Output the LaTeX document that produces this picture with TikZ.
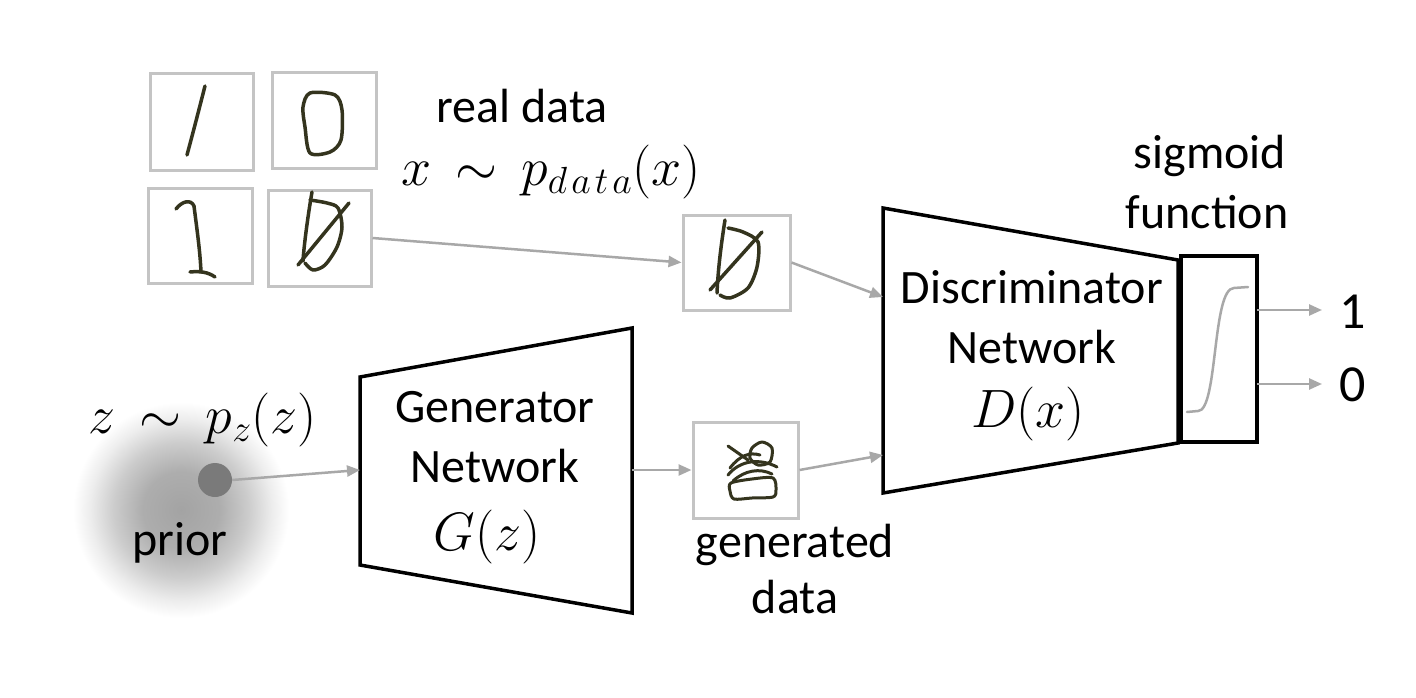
\documentclass[tikz,border=0pt]{standalone}
\usepackage{fix-cm}
\usepackage[no-math]{fontspec}
\setmainfont{Carlito}
\usetikzlibrary{arrows.meta}
\definecolor{boxgray}{HTML}{C4C4C4}
\definecolor{arrgray}{HTML}{A8A8A8}
\definecolor{ink}{HTML}{34341E}
\pgfdeclareradialshading{blob}{\pgfpoint{0bp}{0bp}}{color(0bp)=(black!36); color(8bp)=(black!32); color(14bp)=(black!20); color(19bp)=(black!7); color(22.5bp)=(white); color(25bp)=(white); color(50bp)=(white)}
\begin{document}
\begin{tikzpicture}[x=1pt,y=-1pt,
  txt/.style={font=\fontsize{48}{52}\selectfont, inner sep=0pt},
  bigtxt/.style={font=\fontsize{52}{56}\selectfont, inner sep=0pt},
  mth/.style={font=\fontsize{54}{58}\selectfont, inner sep=0pt},
  imgbox/.style={draw=boxgray, line width=3pt, inner sep=0pt},
  arr/.style={draw=arrgray, line width=2.5pt, -{Triangle[length=13pt,width=11pt]}},
  net/.style={draw=black, line width=3.5pt, line join=miter},
  digit/.style={draw=ink, line width=3.5pt, line cap=round, line join=round},
  sigcurve/.style={draw=arrgray, line width=2.5pt, line cap=round}]
\useasboundingbox (0,0) rectangle (1416,698);
\fill[white] (0,0) rectangle (1416,698);
% prior blob
\shade[shading=blob] (181,510) circle[radius=120];
\node[circle, fill=black!52, minimum size=34pt, inner sep=0pt] (zdot) at (215,480) {};
% real data images
\node[imgbox, minimum width=103pt, minimum height=96pt] (d1) at (201.5,122) {};
\node[imgbox, minimum width=104pt, minimum height=95pt] (d2) at (324,120.5) {};
\node[imgbox, minimum width=104pt, minimum height=95pt] (d3) at (200,235.5) {};
\node[imgbox, minimum width=103pt, minimum height=96pt] (d4) at (319.5,238) {};
\node[imgbox, minimum width=107pt, minimum height=95pt] (real) at (736.5,262.5) {};
\node[imgbox, minimum width=105pt, minimum height=96pt] (gen) at (745.5,470) {};
% digits
\draw[digit] (187,155) .. controls (195,125) .. (205,86);
\draw[digit] plot[smooth cycle] coordinates {(310,93) (335,95) (342,110) (341,140) (330,152) (310,153) (305,127) (303,107)};
\draw[digit] (176,209) .. controls (182,201) and (191,199) .. (194,206) .. controls (197,230) and (200,250) .. (201,272);
\draw[digit] (190,272) .. controls (200,271) and (208,272) .. (215,277);
\draw[digit] (312,192) .. controls (308,215) and (304,245) .. (303,261);
\draw[digit] plot[smooth] coordinates {(310,200) (327,203) (338,208) (342,227) (337,247) (325,265) (313,270) (305,263)};
\draw[digit] (298,265) -- (349,203);
\draw[digit] (725,220) .. controls (721,245) and (718,270) .. (717,293);
\draw[digit] plot[smooth] coordinates {(728,228) (743,232) (758,242) (757,267) (748,288) (730,298) (720,295)};
\draw[digit] (710,290) -- (762,232);
% generated scribble
\draw[digit, line width=3pt] plot[smooth cycle] coordinates {(731,483) (752,479) (773,478) (776,490) (773,497) (752,498) (734,499) (730,491)};
\draw[digit, line width=3pt] plot[smooth cycle] coordinates {(752,448) (762,442) (772,448) (770,462) (758,465) (750,458)};
\draw[digit, line width=3pt] (728,446) -- (748,460);
\draw[digit, line width=3pt] (728,475) .. controls (740,460) and (760,458) .. (777,467);
\draw[digit, line width=3pt] (730,468) .. controls (740,455) and (750,452) .. (760,455);
\draw[digit, line width=3pt] (733,481) .. controls (745,470) and (760,468) .. (772,474);
% generator
\draw[net] (360,377) coordinate (g1) -- (632,328) coordinate (g2) -- (632,613) coordinate (g3) -- (360,565) coordinate (g4) -- cycle;
\coordinate (gin) at (360,470);
\coordinate (gout) at (632,470);
% discriminator
\draw[net] (883,208) coordinate (h1) -- (1178,260) coordinate (h2) -- (1178,443) coordinate (h3) -- (883,493) coordinate (h4) -- cycle;
\coordinate (din1) at (883,297);
\coordinate (din2) at (883,455);
% sigmoid box
\node[draw=black, line width=3.5pt, minimum width=76pt, minimum height=186pt, inner sep=0pt] (sig) at (1219,349) {};
\draw[sigcurve] (1187,412) -- (1198,411) .. controls (1218,411) and (1212,288) .. (1234,288) -- (1248,287);
\coordinate (o1s) at (1257,310);
\coordinate (o1e) at (1322,310);
\coordinate (o0s) at (1257,384);
\coordinate (o0e) at (1322,384);
% connectors
\draw[arr] (d4.east) -- (real.west);
\draw[arr] (real.east) -- (din1);
\draw[arr] (zdot.east) -- (gin);
\draw[arr] (gout) -- (gen.west);
\draw[arr] (gen.east) -- (din2);
\draw[arr] (o1s) -- (o1e);
\draw[arr] (o0s) -- (o0e);
% texts
\node[txt, anchor=base] (realt) at (522,123) {real data};
\node[mth, anchor=base] (xt) at (551,185) {$x\mathrel{\,\sim\,}p_{d\mkern2mu a\mkern2mu t\mkern2mu a}(x)$};
\node[txt, anchor=base] (sigt1) at (1210,168) {sigmoid};
\node[txt, anchor=base] (sigt2) at (1207,228) {function};
\node[txt, anchor=base] (dt1) at (1032,303) {Discriminator};
\node[txt, anchor=base] (dt2) at (1032,363) {Network};
\node[mth, anchor=base] (dt3) at (1028,427) {$D(x)$};
\node[txt, anchor=base] (gt1) at (495,422) {Generator};
\node[txt, anchor=base] (gt2) at (495,482) {Network};
\node[mth, anchor=base] (gt3) at (487,550) {$G(z)$};
\node[txt, anchor=base] (prior) at (180,555) {prior};
\node[mth, anchor=base] (zt) at (203,433) {$z\mathrel{\,\sim\,}p_z(z)$};
\node[txt, anchor=base] (gd1) at (795,557) {generated};
\node[txt, anchor=base] (gd2) at (795,613) {data};
\node[bigtxt, anchor=base] (one) at (1353,328) {1};
\node[bigtxt, anchor=base] (zero) at (1353,401) {0};
\end{tikzpicture}
\end{document}
